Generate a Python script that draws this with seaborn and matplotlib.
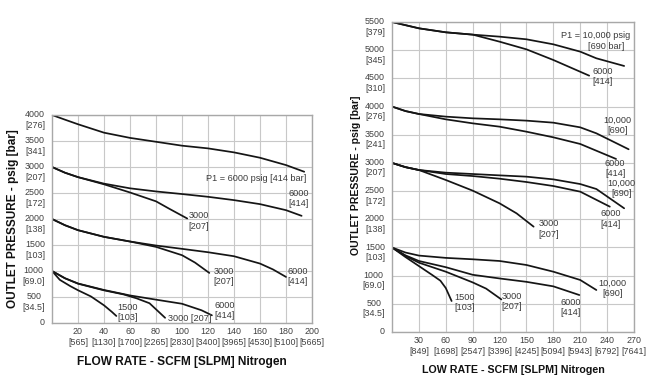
import matplotlib
matplotlib.use("Agg")
import matplotlib.pyplot as plt
import matplotlib.transforms as mtransforms
import seaborn as sns
import pandas as pd

# ---------------- data: left chart (P1 = 6000 psig) ----------------
L_xticks = [20, 40, 60, 80, 100, 120, 140, 160, 180, 200]
L_xlabels = ["[565]", "[1130]", "[1700]", "[2265]", "[2830]", "[3400]", "[3965]", "[4530]", "[5100]", "[5665]"]
L_yticks = [0, 500, 1000, 1500, 2000, 2500, 3000, 3500, 4000]
L_ybar = ["", "[34.5]", "[69.0]", "[103]", "[138]", "[172]", "[207]", "[341]", "[276]"]

L4000_6000_x = [0, 10, 20, 40, 60, 80, 100, 120, 140, 160, 180, 194]
L4000_6000_y = [4000, 3910, 3822, 3660, 3560, 3485, 3410, 3358, 3281, 3178, 3037, 2909]

L3000_6000_x = [0, 10, 20, 40, 60, 80, 100, 120, 140, 160, 180, 192]
L3000_6000_y = [3000, 2890, 2805, 2680, 2590, 2530, 2480, 2427, 2363, 2286, 2170, 2061]
L3000_3000_x = [0, 10, 20, 40, 60, 80, 90, 104]
L3000_3000_y = [3000, 2890, 2805, 2667, 2510, 2340, 2200, 2010]

L2000_6000_x = [0, 10, 20, 40, 60, 80, 100, 120, 140, 160, 170, 180]
L2000_6000_y = [2000, 1880, 1785, 1657, 1567, 1490, 1426, 1361, 1284, 1143, 1030, 886]
L2000_3000_x = [0, 10, 20, 40, 60, 80, 100, 110, 121]
L2000_3000_y = [2000, 1880, 1785, 1657, 1567, 1464, 1304, 1162, 963]

L1000_6000_x = [0, 10, 20, 40, 60, 80, 100, 115, 123]
L1000_6000_y = [1000, 860, 760, 635, 530, 449, 370, 245, 148]
L1000_3000_x = [0, 10, 20, 40, 55, 65, 75, 87]
L1000_3000_y = [1000, 860, 756, 628, 550, 475, 380, 100]
L1000_1500_x = [0, 6, 14, 20, 30, 40, 46, 49.5]
L1000_1500_y = [1000, 830, 710, 630, 510, 340, 215, 135]

# ---------------- data: right chart (P1 = 10,000 psig) ----------------
R_xticks = [30, 60, 90, 120, 150, 180, 210, 240, 270]
R_xlabels = ["[849]", "[1698]", "[2547]", "[3396]", "[4245]", "[5094]", "[5943]", "[6792]", "[7641]"]
R_yticks = [0, 500, 1000, 1500, 2000, 2500, 3000, 3500, 4000, 4500, 5000, 5500]
R_ybar = ["", "[34.5]", "[69.0]", "[103]", "[138]", "[172]", "[207]", "[241]", "[276]", "[310]", "[345]", "[379]"]

R5500_10000_x = [0, 30, 60, 90, 120, 150, 180, 210, 228, 259]
R5500_10000_y = [5500, 5388, 5317, 5276, 5240, 5193, 5104, 4974, 4856, 4720]
R5500_6000_x = [0, 30, 60, 90, 120, 150, 180, 220]
R5500_6000_y = [5500, 5388, 5317, 5276, 5151, 5015, 4826, 4548]

R4000_10000_x = [0, 15, 30, 60, 90, 120, 150, 180, 210, 228, 264]
R4000_10000_y = [4000, 3920, 3868, 3821, 3791, 3773, 3750, 3714, 3631, 3525, 3242]
R4000_6000_x = [0, 15, 30, 60, 90, 120, 150, 180, 210, 250]
R4000_6000_y = [4000, 3920, 3868, 3773, 3702, 3643, 3554, 3454, 3336, 3070]

R3000_10000_x = [0, 15, 30, 60, 90, 120, 150, 180, 210, 228, 259]
R3000_10000_y = [3000, 2925, 2874, 2827, 2803, 2779, 2756, 2708, 2625, 2537, 2195]
R3000_6000_x = [0, 15, 30, 60, 90, 120, 150, 180, 210, 243]
R3000_6000_y = [3000, 2925, 2874, 2803, 2767, 2720, 2661, 2590, 2490, 2224]
R3000_3000_x = [0, 15, 30, 60, 90, 120, 139, 158]
R3000_3000_y = [3000, 2925, 2874, 2697, 2508, 2283, 2105, 1869]

R1500_10000_x = [0, 15, 30, 60, 90, 120, 150, 180, 210, 228]
R1500_10000_y = [1500, 1410, 1356, 1315, 1290, 1260, 1189, 1070, 923, 745]
R1500_6000_x = [0, 15, 30, 60, 90, 120, 150, 180, 209]
R1500_6000_y = [1500, 1360, 1260, 1150, 1015, 950, 890, 810, 656]
R1500_3000_x = [0, 15, 30, 60, 90, 105, 122]
R1500_3000_y = [1500, 1350, 1230, 1070, 880, 770, 578]
R1500_1500_x = [0, 15, 30, 45, 54, 60, 66.5]
R1500_1500_y = [1500, 1330, 1170, 1010, 910, 780, 550]

left_curves = [
    (L4000_6000_x, L4000_6000_y), (L3000_6000_x, L3000_6000_y), (L3000_3000_x, L3000_3000_y),
    (L2000_6000_x, L2000_6000_y), (L2000_3000_x, L2000_3000_y),
    (L1000_6000_x, L1000_6000_y), (L1000_3000_x, L1000_3000_y), (L1000_1500_x, L1000_1500_y),
]
right_curves = [
    (R5500_10000_x, R5500_10000_y), (R5500_6000_x, R5500_6000_y),
    (R4000_10000_x, R4000_10000_y), (R4000_6000_x, R4000_6000_y),
    (R3000_10000_x, R3000_10000_y), (R3000_6000_x, R3000_6000_y), (R3000_3000_x, R3000_3000_y),
    (R1500_10000_x, R1500_10000_y), (R1500_6000_x, R1500_6000_y),
    (R1500_3000_x, R1500_3000_y), (R1500_1500_x, R1500_1500_y),
]

# ---------------- style ----------------
sns.set_style("white")
plt.rcParams['font.family'] = ['Liberation Sans', 'DejaVu Sans']

W, H = 657, 385
fig = plt.figure(figsize=(W / 100, H / 100), dpi=100)

def px_axes(l, r, t, b):
    return fig.add_axes([l / W, (H - b) / H, (r - l) / W, (b - t) / H])

axL = px_axes(52, 312, 115, 323)
axR = px_axes(392, 634, 22, 332)

TICK_FS = 6.4
LAB_FS = 6.6
GRID_C = "#c8c8c8"
SPINE_C = "#a8a8a8"
TXT_C = "#3a3a3a"

def style_axes(ax, xmax, ymax, xticks, xbar, yticks, ybar, xlabel, xfs, yfs):
    ax.set_xlim(0, xmax)
    ax.set_ylim(0, ymax)
    ax.set_xticks(xticks)
    ax.set_xticklabels([f"{t}\n{b}" for t, b in zip(xticks, xbar)])
    ax.set_yticks(yticks)
    ax.set_yticklabels([f"{t}\n{b}" if b else f"{t}" for t, b in zip(yticks, ybar)])
    ax.grid(True, color=GRID_C, linewidth=0.8)
    ax.set_axisbelow(True)
    for s in ax.spines.values():
        s.set_color(SPINE_C)
        s.set_linewidth(1.0)
    ax.tick_params(axis='both', length=0, labelsize=TICK_FS, labelcolor="#404040")
    ax.tick_params(axis='x', pad=3)
    ax.tick_params(axis='y', pad=5)
    off = mtransforms.ScaledTranslation(0, TICK_FS * 0.55 / 72, fig.dpi_scale_trans)
    for lab in ax.get_yticklabels():
        lab.set_verticalalignment('top')
        lab.set_multialignment('center')
        lab.set_transform(lab.get_transform() + off)
    for lab in ax.get_xticklabels():
        lab.set_multialignment('center')
    ax.set_xlabel(xlabel, fontsize=xfs, fontweight='bold', color="#111111", labelpad=7)
    ax.set_ylabel("OUTLET PRESSURE - psig [bar]", fontsize=yfs, fontweight='bold', color="#111111")

for cx, cy in left_curves:
    sns.lineplot(data=pd.DataFrame({"flow": cx, "p": cy}), x="flow", y="p", ax=axL,
                 color="#151515", linewidth=1.25, sort=False)
for cx, cy in right_curves:
    sns.lineplot(data=pd.DataFrame({"flow": cx, "p": cy}), x="flow", y="p", ax=axR,
                 color="#151515", linewidth=1.25, sort=False)

style_axes(axL, 200, 4000, L_xticks, L_xlabels, L_yticks, L_ybar,
           "FLOW RATE - SCFM [SLPM] Nitrogen", 8.6, 8.5)
style_axes(axR, 270, 5500, R_xticks, R_xlabels, R_yticks, R_ybar,
           "LOW RATE - SCFM [SLPM] Nitrogen", 7.7, 7.6)
axL.yaxis.set_label_coords(-0.127, 0.5)
axR.yaxis.set_label_coords(-0.128, 0.505)

def lab(ax, x, y, s, ha='left', va='center'):
    ax.text(x, y, s, fontsize=LAB_FS, color=TXT_C, ha=ha, va=va, multialignment='center')

# left chart labels
lab(axL, 196, 2774, "P1 = 6000 psig [414 bar]", ha='right')
lab(axL, 190, 2389, "6000\n[414]", ha='center')
lab(axL, 105, 1965, "3000\n[207]")
lab(axL, 124, 900, "3000\n[207]")
lab(axL, 181, 900, "6000\n[414]")
lab(axL, 50.5, 205, "1500\n[103]")
lab(axL, 89, 84, "3000 [207]")
lab(axL, 125, 238, "6000\n[414]")

# right chart labels
axR.text(265.5, 5258, "P1 = 10,000 psig", fontsize=LAB_FS, color=TXT_C, ha='right', va='center')
axR.text(259, 5063, "[690 bar]", fontsize=LAB_FS, color=TXT_C, ha='right', va='center')
lab(axR, 224, 4530, "6000\n[414]")
lab(axR, 251.5, 3661, "10,000\n[690]", ha='center')
lab(axR, 249, 2898, "6000\n[414]", ha='center')
lab(axR, 256, 2543, "10,000\n[690]", ha='center')
lab(axR, 244, 2005, "6000\n[414]", ha='center')
lab(axR, 163, 1828, "3000\n[207]")
lab(axR, 69.5, 520, "1500\n[103]")
lab(axR, 122.5, 538, "3000\n[207]")
lab(axR, 199.4, 438, "6000\n[414]", ha='center')
lab(axR, 245.6, 775, "10,000\n[690]", ha='center')

fig.savefig("out.png", dpi=100)
